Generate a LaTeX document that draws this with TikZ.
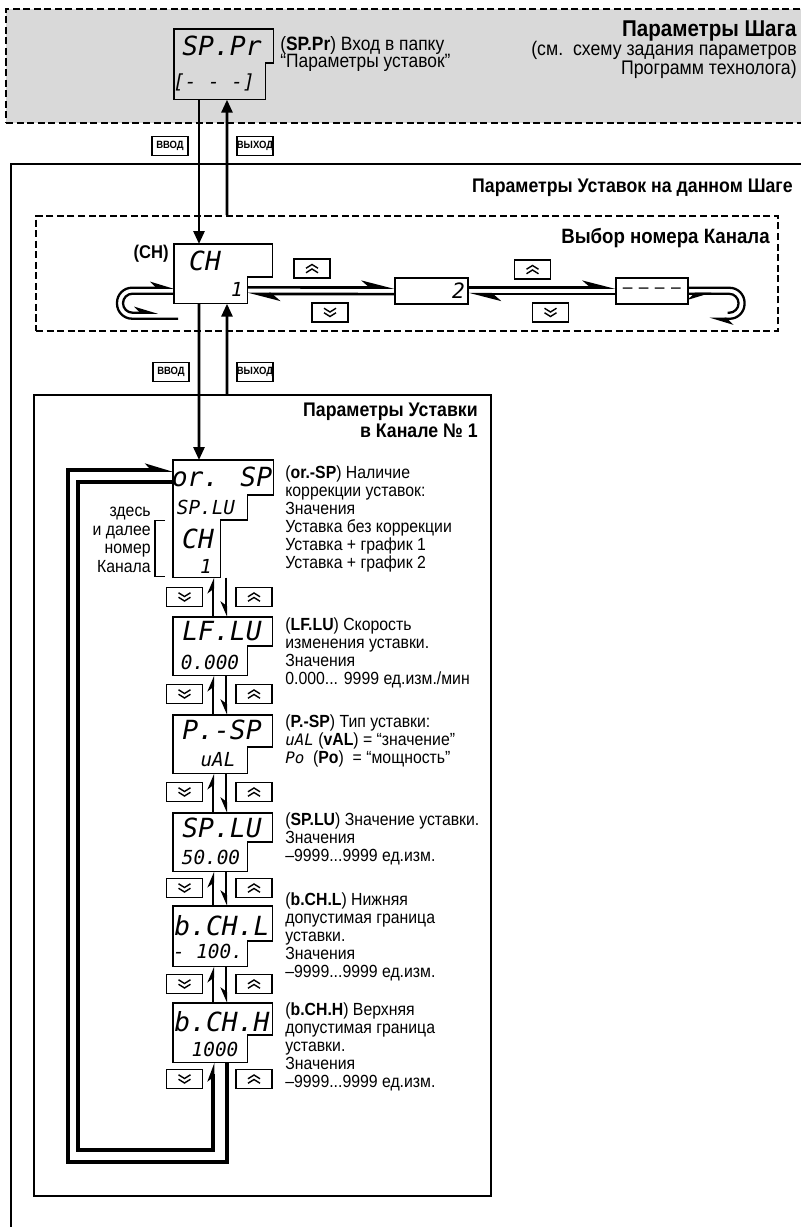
\documentclass[tikz,border=0pt]{standalone}
\usepackage{fontspec}
\setmainfont{Liberation Sans}[FakeStretch=0.9]
\newfontfamily\lcdfont{DejaVu Sans Mono}
\usetikzlibrary{arrows.meta,calc,positioning}

\newcommand{\lcdframe}[3]{%
  \draw[lcdline] (#1.north west) -- (#1.north east) -- ([yshift=-#2]#1.north east)
    -- ([xshift=-#3,yshift=-#2]#1.north east) -- ([xshift=-#3]#1.south east)
    -- (#1.south west) -- cycle;}

\tikzset{
  frame/.style={draw, line width=1.1pt, anchor=north west, inner sep=0pt},
  dashframe/.style={frame, dash pattern=on 4pt off 2pt},
  lcd/.style={anchor=north west, inner sep=0pt, minimum width=19.8mm, minimum height=11.6mm},
  lcdline/.style={draw, line width=0.9pt},
  lcdbig/.style={font=\lcdfont\itshape\fontsize{15}{15}\selectfont, inner sep=0pt},
  lcdsmall/.style={font=\lcdfont\itshape\fontsize{11}{11}\selectfont, inner sep=0pt},
  valbox/.style={draw, line width=0.9pt, anchor=north west, minimum height=5.2mm,
    inner sep=0.6mm, font=\lcdfont\itshape\fontsize{12}{12}\selectfont},
  tag/.style={draw, line width=0.8pt, font=\bfseries\fontsize{6}{6}\selectfont,
    minimum width=7.2mm, minimum height=3.8mm, inner sep=0pt},
  btn/.style={draw, line width=0.8pt, minimum width=7.2mm, minimum height=3.8mm, inner sep=0pt},
  btnup/.style={btn, path picture={
    \draw[line width=0.8pt] ([shift={(-1.2mm,0.05mm)}]path picture bounding box.center)
      -- ++(1.2mm,0.75mm) -- ++(1.2mm,-0.75mm);
    \draw[line width=0.8pt] ([shift={(-1.2mm,-0.85mm)}]path picture bounding box.center)
      -- ++(1.2mm,0.75mm) -- ++(1.2mm,-0.75mm);}},
  btndn/.style={btn, path picture={
    \draw[line width=0.8pt] ([shift={(-1.2mm,-0.05mm)}]path picture bounding box.center)
      -- ++(1.2mm,-0.75mm) -- ++(1.2mm,0.75mm);
    \draw[line width=0.8pt] ([shift={(-1.2mm,0.85mm)}]path picture bounding box.center)
      -- ++(1.2mm,-0.75mm) -- ++(1.2mm,0.75mm);}},
  flow/.style={line width=1.6pt, -{Triangle[length=2.6mm,width=2.2mm]}},
  harp/.style={line width=1.5pt, -{Stealth[left,length=5.5mm,width=2.8mm,inset=1.6mm]}},
  loopline/.style={line width=1.3pt},
  upharp/.style={line width=1.5pt, -{Stealth[left,length=2.6mm,width=2.2mm,inset=0.8mm]}},
  dnharp/.style={line width=1.5pt, -{Stealth[right,length=2.6mm,width=2.2mm,inset=0.8mm]}},
  bigloop/.style={line width=2pt},
  desc/.style={anchor=north west, align=left, inner sep=0pt, font=\fontsize{10}{10.25}\selectfont},
  note/.style={align=left, inner sep=0pt, font=\fontsize{11}{10}\selectfont},
  head/.style={inner sep=0pt, font=\bfseries\fontsize{11.2}{11.6}\selectfont},
}

\begin{document}
\begin{tikzpicture}[x=0.02cm, y=-0.02cm]
\useasboundingbox (0,0) rectangle (801,1227);
\clip (0,0) rectangle (801,1227);

%--- Параметры Шага ---
\node[dashframe, fill=gray!30, minimum width=165mm, minimum height=22.8mm] (stepbox) at (5,8) {};
\node[lcd, minimum width=19.8mm, minimum height=14mm] (sppr) at (174,29) {};
\lcdframe{sppr}{6.8mm}{1.6mm}
\node[lcdbig] (spprT) at (222,46) {SP.Pr};
\node[lcdsmall] (spprB) at (214,82) {[- - -]};
\node[note, anchor=north west] (spprD) at (280,36) {(\textbf{SP.Pr}) Вход в папку\\“Параметры уставок”};
\node[align=right, inner sep=0pt, anchor=north east, font=\fontsize{11.2}{11}\selectfont] (stepT) at (797,20)
  {{\bfseries\fontsize{13}{11}\selectfont Параметры Шага}\\(см.\ \ схему задания параметров\\Программ технолога)};

% ввод / выход
\node[tag] (in1) at (170,146) {ВВОД};
\node[tag] (out1) at (255,146) {ВЫХОД};

%--- Параметры Уставок на данном Шаге ---
\node[frame, minimum width=170mm, minimum height=225mm] (mainbox) at (10,163) {};
\node[head, anchor=east] (mainT) at (793,188) {Параметры Уставок на данном Шаге};

%--- выбор канала ---
\node[dashframe, minimum width=148.4mm, minimum height=23mm] (selbox) at (35,215) {};
\node[head, anchor=east, font=\bfseries\fontsize{11.8}{12}\selectfont] (selT) at (770,238) {Выбор номера Канала};
\node[head, anchor=east, font=\bfseries\fontsize{10.5}{11}\selectfont] (chlab) at (169,254) {(CH)};

\node[lcd, minimum width=19.6mm, minimum height=11.8mm] (ch) at (174,244) {};
\lcdframe{ch}{6.6mm}{5mm}
\node[lcdbig] (chT) at (205,261) {CH};
\node[lcdsmall] (chB) at (237,289) {1};

\node[valbox, minimum width=14.6mm, text width=13.4mm, align=right] (n2) at (394,277) {2};
\node[valbox, minimum width=14.4mm, text width=13.2mm, align=center,
  font=\fontsize{11}{11}\selectfont] (nd) at (615,277) {–\ –\ –\ –};

\node[btnup] (u1) at (312,268.5) {};
\node[btndn] (d1) at (330,312.5) {};
\node[btnup] (u2) at (532.5,269.5) {};
\node[btndn] (d2) at (550.5,312.5) {};

\coordinate (chR) at ([xshift=-5mm,yshift=2.6mm]ch.south east);
\coordinate (chL) at ([yshift=2.6mm]ch.south west);
\draw[harp] ([yshift=0.66mm]chR) -- ([yshift=0.66mm]n2.west);
\draw[harp] ([yshift=-0.66mm]n2.west) -- ([yshift=-0.66mm]chR);
\draw[harp] ([yshift=0.66mm]n2.east) -- ([yshift=0.66mm]nd.west);
\draw[harp] ([yshift=-0.66mm]nd.west) -- ([yshift=-0.66mm]n2.east);

% петли
\draw[loopline, rounded corners=3mm, -{Stealth[left,length=4mm,width=2.4mm,inset=1.2mm]}]
  ([shift={(0.8mm,-5.6mm)}]chL) -- ++(-12.2mm,0) -- ++(0,6.2mm) -- ([yshift=0.6mm]chL);
\draw[loopline, rounded corners=1.9mm, -{Stealth[left,length=4mm,width=2.4mm,inset=1.2mm]}]
  ([yshift=-0.6mm]chL) -- ++(-10.2mm,0) -- ++(0,-3.8mm) -- ++(7mm,0);
\draw[loopline, rounded corners=3mm, -{Stealth[left,length=4mm,width=2.4mm,inset=1.2mm]}]
  ([yshift=0.6mm]nd.east) -- ++(11.2mm,0) -- ++(0,-6.2mm) -- ++(-7mm,0);
\draw[loopline, rounded corners=1.9mm]
  ([yshift=-0.6mm]nd.east) -- ++(10mm,0) -- ++(0,-3.8mm) -- ++(-2.2mm,0);
\draw[loopline, -{Stealth[right,length=4mm,width=2.4mm,inset=1.2mm]}]
  ([yshift=-0.6mm]nd.east) -- ++(4.6mm,0);

% вход / выход
\draw[flow] ([xshift=5mm]sppr.south west) -- ([xshift=5mm]ch.north west);
\draw[flow] ([xshift=38.4mm]selbox.north west) -- ([xshift=10.6mm]sppr.south west);

\node[tag] (in2) at (171,372) {ВВОД};
\node[tag] (out2) at (255,372) {ВЫХОД};

%--- Параметры Уставки в Канале ---
\node[frame, minimum width=91.4mm, minimum height=160.2mm] (chanbox) at (33,394) {};
\node[head, anchor=north east, align=right] (chanT) at (478,403) {Параметры Уставки\\в Канале № 1};

% or.-SP
\node[lcd, minimum width=20mm, minimum height=23.4mm] (orsp) at (173,460) {};
\draw[lcdline] (orsp.north west) -- (orsp.north east) -- ++(0,-7mm) -- ++(-5.2mm,0)
  -- ++(0,-5mm) -- ++(-5.4mm,0) |- (orsp.south west) -- cycle;
\node[lcdbig] (orspT) at (222,477) {or. SP};
\node[lcdsmall] (orspS) at (206,507) {SP.LU};
\node[lcdbig] (orspC) at (198,539) {CH};
\node[lcdsmall] (orspN) at (206,566) {1};
\node[desc] (orspD) at (285,465) {(\textbf{or.-SP}) Наличие\\коррекции уставок:\\Значения\\Уставка без коррекции\\Уставка + график 1\\Уставка + график 2};

\draw[flow] ([xshift=5mm]ch.south west) -- ([xshift=5.2mm]orsp.north west);
\draw[flow] ([xshift=38.8mm]chanbox.north west) -- ([xshift=10.6mm]ch.south west);

\node[align=right, inner sep=0pt, anchor=north east, font=\fontsize{10}{10.5}\selectfont] (here) at (151,507) {здесь\\и далее\\номер\\Канала};
\draw[line width=0.6pt] ([xshift=-1.6mm,yshift=11.4mm]orsp.south west) -- ([xshift=-3.6mm,yshift=11.4mm]orsp.south west)
  -- ([xshift=-3.6mm,yshift=0.2mm]orsp.south west) -- ([xshift=-1.6mm,yshift=0.2mm]orsp.south west);

% LF.LU
\node[lcd] (lf) at (173,617) {};
\lcdframe{lf}{5.8mm}{5mm}
\node[lcdbig] (lfT) at (222,631) {LF.LU};
\node[lcdsmall] (lfB) at (210,662) {0.000};
\node[desc] (lfD) at (285,617) {(\textbf{LF.LU}) Скорость\\изменения уставки.\\Значения\\0.000... 9999 ед.изм./мин};

% P.-SP
\node[lcd] (psp) at (173,715) {};
\lcdframe{psp}{6.4mm}{5mm}
\node[lcdbig] (pspT) at (222,730) {P.-SP};
\node[lcdsmall] (pspB) at (218,760) {uAL};
\node[desc] (pspD) at (285,714) {(\textbf{P.-SP}) Тип уставки:\\{\lcdfont\itshape\small uAL} (\textbf{vAL}) = “значение”\\{\lcdfont\itshape\small Po}\ \ (\textbf{Po})\ \ = “мощность”};

% SP.LU
\node[lcd] (splu) at (173,813) {};
\lcdframe{splu}{5.8mm}{5mm}
\node[lcdbig] (spluT) at (222,828) {SP.LU};
\node[lcdsmall] (spluB) at (211,857) {50.00};
\node[desc] (spluD) at (285,812) {(\textbf{SP.LU}) Значение уставки.\\Значения\\–9999...9999 ед.изм.};

% b.CH.L
\node[lcd, minimum height=12mm] (bchl) at (173,906) {};
\lcdframe{bchl}{7mm}{5mm}
\node[lcdbig] (bchlT) at (222,926) {b.CH.L};
\node[lcdsmall] (bchlB) at (208,951) {- 100.};
\node[desc] (bchlD) at (285,892) {(\textbf{b.CH.L}) Нижняя\\допустимая граница\\уставки.\\Значения\\–9999...9999 ед.изм.};

% b.CH.H
\node[lcd, minimum height=11.8mm] (bchh) at (173,1003) {};
\lcdframe{bchh}{6.4mm}{5mm}
\node[lcdbig] (bchhT) at (222,1022) {b.CH.H};
\node[lcdsmall] (bchhB) at (215,1049) {1000};
\node[desc] (bchhD) at (285,1002) {(\textbf{b.CH.H}) Верхняя\\допустимая граница\\уставки.\\Значения\\–9999...9999 ед.изм.};

% кнопки
\node[btndn] (k1d) at (184.5,597) {};  \node[btnup] (k1u) at (254,597) {};
\node[btndn] (k2d) at (184.5,694) {};  \node[btnup] (k2u) at (254,694) {};
\node[btndn] (k3d) at (184.5,792) {};  \node[btnup] (k3u) at (254,792) {};
\node[btndn] (k4d) at (184.5,888) {};  \node[btnup] (k4u) at (254,888) {};
\node[btndn] (k5d) at (184.5,984) {};  \node[btnup] (k5u) at (254,984) {};
\node[btndn] (k6d) at (184.5,1079) {}; \node[btnup] (k6u) at (254,1079) {};

% переходы между параметрами
\draw[upharp] ([xshift=8mm]lf.north west) -- ([xshift=8mm]orsp.south west);
\draw[dnharp] ([xshift=10.6mm]orsp.south west) -- ([xshift=10.6mm]lf.north west);
\draw[upharp] ([xshift=8mm]psp.north west) -- ([xshift=8mm]lf.south west);
\draw[dnharp] ([xshift=10.6mm]lf.south west) -- ([xshift=10.6mm]psp.north west);
\draw[upharp] ([xshift=8mm]splu.north west) -- ([xshift=8mm]psp.south west);
\draw[dnharp] ([xshift=10.6mm]psp.south west) -- ([xshift=10.6mm]splu.north west);
\draw[upharp] ([xshift=8mm]bchl.north west) -- ([xshift=8mm]splu.south west);
\draw[dnharp] ([xshift=10.6mm]splu.south west) -- ([xshift=10.6mm]bchl.north west);
\draw[upharp] ([xshift=8mm]bchh.north west) -- ([xshift=8mm]bchl.south west);
\draw[dnharp] ([xshift=10.6mm]bchl.south west) -- ([xshift=10.6mm]bchh.north west);

% большая петля
\coordinate (loopOut) at (68,1162);
\coordinate (loopIn) at (78,1150);
\draw[bigloop, -{Stealth[left,length=4.4mm,width=2.6mm,inset=1.2mm]}]
  ([xshift=10.8mm]bchh.south west) |- (loopOut) |- ([yshift=-2mm]orsp.north west);
\draw[bigloop, -{Stealth[left,length=3mm,width=2.2mm,inset=0.8mm]}]
  ([yshift=-4.4mm]orsp.north west) -| (loopIn) -| ([xshift=8mm]bchh.south west);
\end{tikzpicture}
\end{document}
